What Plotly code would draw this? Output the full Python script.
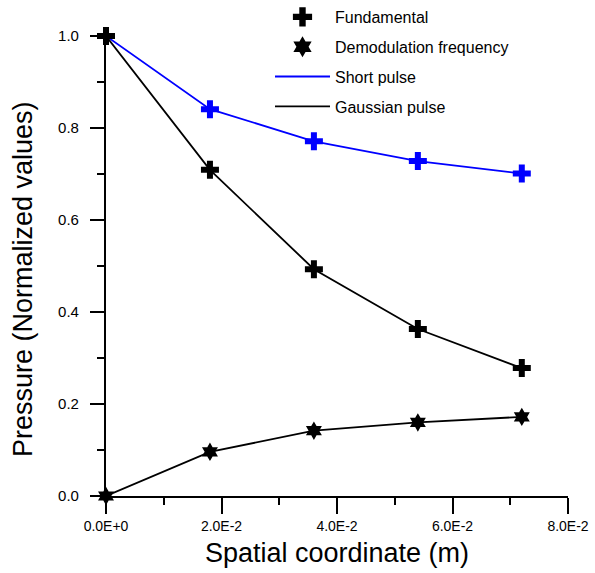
import plotly.graph_objects as go

x_m = [0.0, 0.018, 0.036, 0.054, 0.072]
short_pulse = [1.0, 0.841, 0.771, 0.728, 0.701]
gaussian_fund = [1.0, 0.709, 0.493, 0.363, 0.278]
gaussian_demod = [0.0, 0.096, 0.142, 0.160, 0.172]

x_tickvals = [0.0, 0.02, 0.04, 0.06, 0.08]
x_ticktext = ["0.0E+0", "2.0E-2", "4.0E-2", "6.0E-2", "8.0E-2"]
x_minor = [0.01, 0.03, 0.05, 0.07]
y_tickvals = [0.0, 0.2, 0.4, 0.6, 0.8, 1.0]
y_ticktext = ["0.0", "0.2", "0.4", "0.6", "0.8", "1.0"]
y_minor = [0.1, 0.3, 0.5, 0.7, 0.9]

FONT = "Liberation Sans, Arial, sans-serif"
BLUE = "#0000ff"
BLACK = "#000000"

fig = go.Figure()

fig.add_trace(go.Scatter(x=x_m, y=short_pulse, mode="lines+markers",
                         line=dict(color=BLUE, width=1.8),
                         marker=dict(symbol="cross", size=15, color=BLUE),
                         cliponaxis=False, showlegend=False))
fig.add_trace(go.Scatter(x=x_m, y=gaussian_fund, mode="lines+markers",
                         line=dict(color=BLACK, width=1.8),
                         marker=dict(symbol="cross", size=15, color=BLACK),
                         cliponaxis=False, showlegend=False))
fig.add_trace(go.Scatter(x=x_m, y=gaussian_demod, mode="lines+markers",
                         line=dict(color=BLACK, width=1.8),
                         marker=dict(symbol="hexagram", size=14, color=BLACK),
                         cliponaxis=False, showlegend=False))

# empty trace so the overlay axes (minor ticks) are drawn
fig.add_trace(go.Scatter(x=[None], y=[None], xaxis="x2", yaxis="y2",
                         mode="markers", showlegend=False, hoverinfo="skip"))

# legend entries
fig.add_trace(go.Scatter(x=[None], y=[None], mode="markers", name="Fundamental",
                         marker=dict(symbol="cross", size=18, color=BLACK),
                         legendgroup="a"))
fig.add_trace(go.Scatter(x=[None], y=[None], mode="markers", name="Demodulation frequency",
                         marker=dict(symbol="hexagram", size=18, color=BLACK),
                         legendgroup="b"))
fig.add_trace(go.Scatter(x=[None], y=[None], mode="lines", name="Short pulse",
                         line=dict(color=BLUE, width=1.8), legendgroup="c"))
fig.add_trace(go.Scatter(x=[None], y=[None], mode="lines", name="Gaussian pulse",
                         line=dict(color=BLACK, width=1.8), legendgroup="d"))

fig.update_layout(
    template="simple_white",
    width=595, height=573,
    margin=dict(l=106, r=27, t=36, b=77, autoexpand=False),
    paper_bgcolor="white", plot_bgcolor="white",
    font=dict(family=FONT, color=BLACK),
    legend=dict(x=(270 - 106) / 462, xanchor="left", y=1.0 + 36 / 460, yanchor="top",
                font=dict(size=16, family=FONT), bgcolor="rgba(0,0,0,0)",
                tracegroupgap=6, itemwidth=55),
    xaxis=dict(range=[0, 0.08], tickmode="array", tickvals=x_tickvals, ticktext=x_ticktext,
               ticks="outside", ticklen=16, tickwidth=1.5, tickcolor=BLACK,
               showline=True, linecolor=BLACK, linewidth=1.5, showgrid=False, zeroline=False,
               tickfont=dict(size=14, family=FONT),
               title=dict(text="Spatial coordinate (m)", font=dict(size=27, family=FONT), standoff=11)),
    xaxis2=dict(range=[0, 0.08], overlaying="x", anchor="y", side="bottom",
                tickmode="array", tickvals=x_minor, ticks="outside", ticklen=8,
                tickwidth=1.5, tickcolor=BLACK, showticklabels=False,
                showline=False, showgrid=False, zeroline=False),
    yaxis=dict(range=[0, 1.0], tickmode="array", tickvals=y_tickvals,
               ticktext=[t + "\u00a0\u00a0" for t in y_ticktext],
               ticks="outside", ticklen=14, tickwidth=1.5, tickcolor=BLACK,
               showline=True, linecolor=BLACK, linewidth=1.5, showgrid=False, zeroline=False,
               tickfont=dict(size=15, family=FONT)),
    yaxis2=dict(range=[0, 1.0], overlaying="y", anchor="x", side="left",
                tickmode="array", tickvals=y_minor, ticks="outside", ticklen=8,
                tickwidth=1.5, tickcolor=BLACK, showticklabels=False,
                showline=False, showgrid=False, zeroline=False),
    annotations=[dict(text="Pressure (Normalized values)", textangle=-90,
                      xref="paper", yref="paper", x=-83 / 462, y=(496 - 279) / 460,
                      xanchor="center", yanchor="middle", showarrow=False,
                      font=dict(size=27, family=FONT, color=BLACK))],
)

fig.write_html("out.html")
